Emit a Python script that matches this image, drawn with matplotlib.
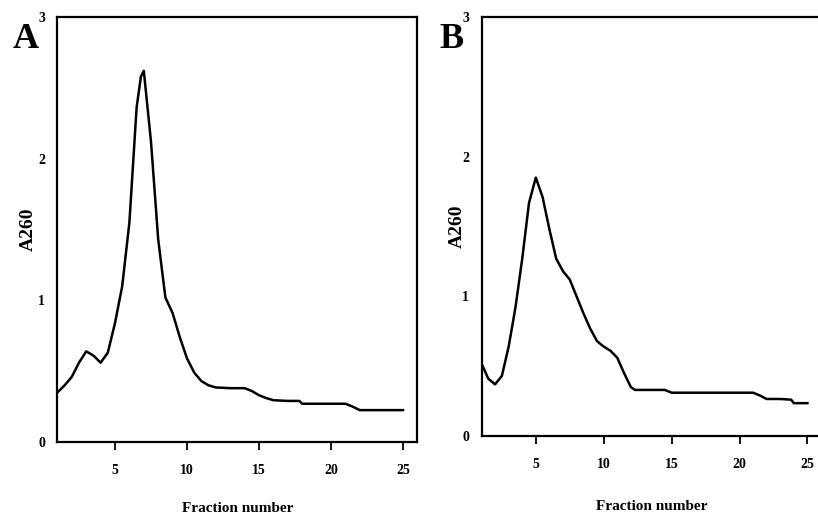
import matplotlib
matplotlib.use("Agg")
import matplotlib.pyplot as plt

# ---- data ----
fraction_a = [1, 1.5, 2, 2.5, 3, 3.5, 4, 4.5, 5, 5.5, 6, 6.5, 6.8, 7, 7.5, 8, 8.5, 9, 9.5,
              10, 10.5, 11, 11.5, 12, 13, 14, 14.5, 15, 15.5, 16, 17, 17.8, 18, 19, 20,
              21, 21.5, 22, 23, 24, 25]
a260_a = [0.35, 0.40, 0.46, 0.56, 0.64, 0.61, 0.56, 0.63, 0.84, 1.10, 1.55, 2.36, 2.58, 2.62,
          2.12, 1.43, 1.02, 0.91, 0.74, 0.59, 0.49, 0.43, 0.40, 0.385, 0.38, 0.38, 0.36,
          0.33, 0.31, 0.295, 0.29, 0.29, 0.27, 0.27, 0.27, 0.27, 0.25, 0.225, 0.225,
          0.225, 0.225]

fraction_b = [1, 1.5, 2, 2.5, 3, 3.5, 4, 4.5, 5, 5.5, 6, 6.5, 7, 7.5, 8, 8.5, 9, 9.5,
              10, 10.5, 11, 11.5, 12, 12.3, 13, 14, 14.5, 15, 16, 17, 18, 19, 20, 21,
              21.5, 22, 23, 23.8, 24, 25]
a260_b = [0.52, 0.41, 0.37, 0.43, 0.64, 0.92, 1.27, 1.67, 1.85, 1.71, 1.48, 1.27, 1.18,
          1.12, 1.00, 0.88, 0.77, 0.68, 0.64, 0.61, 0.56, 0.45, 0.35, 0.33, 0.33, 0.33,
          0.33, 0.31, 0.31, 0.31, 0.31, 0.31, 0.31, 0.31, 0.29, 0.265, 0.265, 0.26,
          0.235, 0.235]

x_ticks = [5, 10, 15, 20, 25]
y_ticks = [0, 1, 2, 3]
panel_labels = ["A", "B"]
x_label = "Fraction number"
y_label = "A260"

# ---- figure ----
W, H = 818, 527
fig = plt.figure(figsize=(W / 100, H / 100), dpi=100)
serif = ["Liberation Serif", "DejaVu Serif"]

def px_axes(left, top, right, bottom):
    return fig.add_axes([left / W, 1 - bottom / H, (right - left) / W, (bottom - top) / H])

ax_a = px_axes(57.4, 17, 417.4, 442)
ax_b = px_axes(481.5, 17, 821, 436)

for ax, xs, ys, lab, xpad, ypad in [(ax_a, fraction_a, a260_a, panel_labels[0], 18, 1),
                                    (ax_b, fraction_b, a260_b, panel_labels[1], 21, -3)]:
    ax.plot(xs, ys, color="black", lw=1.8, solid_joinstyle="round")
    ax.set_xlim(1, 26)
    ax.set_ylim(0, 3)
    ax.set_xticks(x_ticks)
    ax.set_yticks(y_ticks)
    ax.tick_params(axis="x", direction="out", length=6, width=1.3, pad=10,
                   labelsize=10)
    ax.tick_params(axis="y", length=0, pad=9, labelsize=10)
    for t in ax.get_xticklabels() + ax.get_yticklabels():
        t.set_fontfamily(serif)
        t.set_fontweight("bold")
    for s in ax.spines.values():
        s.set_linewidth(1.6)
    ax.set_xlabel(x_label, family=serif, fontweight="bold", fontsize=11, labelpad=xpad)
    ax.set_ylabel(y_label, family=serif, fontweight="bold", fontsize=14, labelpad=ypad)
    ax.text(-0.125, 0.985, lab, transform=ax.transAxes, family=serif,
            fontweight="bold", fontsize=26, ha="left", va="top")

fig.savefig("out.png", dpi=100, facecolor="white")
